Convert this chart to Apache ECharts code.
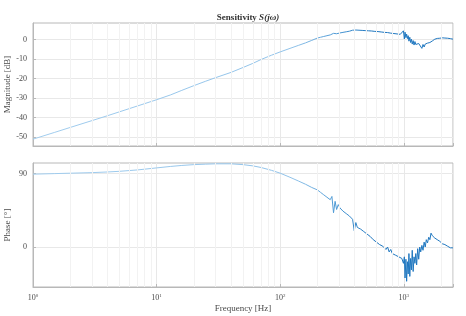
<!DOCTYPE html>
<html>
<head>
<meta charset="utf-8">
<script src="https://cdn.jsdelivr.net/npm/echarts@6/dist/echarts.min.js"></script>
<style>html,body{margin:0;padding:0;background:#fff}#c{width:466px;height:316px}</style>
</head>
<body>
<div id="c"></div>
<script>
const freq = [1, 1.5, 2, 3, 4, 5, 7, 10, 13, 16, 20, 25, 30, 40, 50, 60, 70, 85, 100, 120, 140, 160, 180,
  200, 206, 212, 218, 225, 232, 239, 246, 254, 262, 270, 278, 286, 295, 304, 313, 322, 332, 342, 352, 363, 374, 385, 397,
  409, 421, 434, 447, 460, 474, 488, 503, 518, 534, 550, 566, 583, 601, 619, 637, 656, 676, 696, 717, 739, 761, 784, 807,
  832, 857, 882, 909, 936, 964, 993, 1010, 1023, 1040, 1054, 1070, 1085, 1100, 1118, 1135, 1152, 1170, 1190, 1210, 1230,
  1250, 1270, 1295, 1320, 1345, 1370, 1400, 1430, 1460, 1490, 1520, 1555, 1590, 1625, 1660, 1700, 1740, 1780, 1820, 1865,
  1910, 1955, 2000, 2050, 2100, 2150, 2200, 2260, 2320, 2380, 2440, 2500];

const magnitude = [-51, -47.5, -45, -41.5, -39, -37, -34, -30.8, -28.3, -26, -23.6, -21.3, -19.5, -16.8, -14.3, -12.2, -10.2, -8, -6.3, -4.5, -3, -1.7, -0.4,
  0.8, 1.0, 1.2, 1.3, 1.6, 1.7, 2.0, 2.1, 2.4, 2.5, 3.2, 2.6, 3.0, 3.1, 3.4, 3.5, 3.7, 3.8, 4.0, 4.2, 4.3, 4.6, 4.8, 5.6,
  4.9, 5.0, 4.8, 5.0, 4.7, 4.9, 4.6, 4.8, 4.5, 4.7, 4.4, 4.6, 4.2, 4.5, 4.1, 4.3, 3.9, 4.2, 3.7, 4.0, 3.6, 3.8, 3.3, 3.7,
  3.1, 3.5, 2.9, 3.3, 2.7, 3.0, 4.5, 0.3, 3.8, 1.0, 2.8, 0.5, 2.0, -0.8, 1.2, -1.5, 0.2, -2.3, -0.5, -2.8, -1.0,
  -2.5, -1.6, -3.5, -2.0, -3.0, -2.2, -4.5, -2.5, -3.8, -2.3, -3.0, -1.8, -2.6, -1.5, -1.9, -0.7, -0.9, 0.2, 0.0, 0.6,
  0.4, 0.7, 0.5, 0.9, 0.6, 0.8, 0.5, 0.7, 0.3, 0.5, 0.1, 0.2];

const phase = [89.3, 90, 90.5, 91.2, 92, 92.8, 94.5, 97, 98.8, 100, 101, 101.6, 102, 102, 101, 99.5, 97.5, 94, 90.5, 85.5, 81, 77, 73,
  70, 68, 67, 66, 64, 63, 61, 60, 58, 62, 42, 56, 46, 52, 48, 46, 44, 43, 41, 39, 38, 36, 34, 20,
  30, 24, 25, 22, 21, 19, 18, 16, 15, 13, 12, 9, 9, 6, 7, 3, 5, 1, 2, -3, 0, -6, -3, -8,
  -6, -10, -8, -12, -10, -14, -20, -12, -38, -15, -42, -18, -33, -8, -36, -14, -28, -4, -30, -12, -20,
  -8, -22, -2, -15, 0, -6, 2, -4, 6, 0, 9, 5, 12, 9, 17, 14, 16, 11, 12, 9,
  10, 7, 7, 4, 5, 3, 3, 1, 1, -1, 0, -1];

const minorFreqs = [2, 3, 4, 5, 6, 7, 8, 9, 20, 30, 40, 50, 60, 70, 80, 90, 200, 300, 400, 500, 600, 700, 800, 900, 2000];
const magTicks = [-50, -40, -30, -20, -10, 0];
const phaseTicks = [0, 90];
const title = 'Sensitivity';

const font = 'Liberation Serif';
const txt = '#4a4a4a';
const gridC = '#e8e8e8';
const boxC = '#b8b8b8';

function lineGrad() {
  return new echarts.graphic.LinearGradient(0, 0, 1, 0, [
    {offset: 0, color: '#a2cdee'},
    {offset: 0.62, color: '#90c2e9'},
    {offset: 0.72, color: '#4b98d4'},
    {offset: 0.8, color: '#1e76bf'},
    {offset: 1, color: '#1e76bf'}
  ]);
}

const minorLines = {
  silent: true, symbol: 'none', label: {show: false},
  lineStyle: {color: '#f2f2f2', type: 'solid', width: 1},
  data: minorFreqs.map(f => ({xAxis: f}))
};

function isDecade(v) {
  const e = Math.log10(v);
  return Math.abs(e - Math.round(e)) < 1e-6;
}

function xAxisCfg(gi, showLabels) {
  return {
    type: 'log', logBase: 10, gridIndex: gi, min: 1, max: 2500,
    axisLine: {show: true, onZero: false, lineStyle: {color: boxC}},
    axisTick: {show: true, inside: true, length: 3, lineStyle: {color: boxC}},
    splitLine: {show: true, lineStyle: {color: gridC}},
    axisLabel: showLabels ? {
      show: true,
      color: txt, fontFamily: font, fontSize: 8, margin: 6,
      formatter: v => isDecade(v) ? '10{s|' + Math.round(Math.log10(v)) + '}' : '',
      rich: {s: {fontSize: 5, fontFamily: font, color: txt, padding: [0, 0, 5, 0]}}
    } : {show: false},
    name: showLabels ? 'Frequency [Hz]' : '',
    nameLocation: 'middle', nameGap: 17, nameMoveOverlap: false,
    nameTextStyle: {color: txt, fontFamily: font, fontSize: 9}
  };
}

function yAxisCfg(gi, min, max, ticks, name) {
  return {
    type: 'value', gridIndex: gi, min: min, max: max,
    axisLine: {show: true, onZero: false, lineStyle: {color: boxC}},
    axisTick: {show: true, inside: true, length: 3, customValues: ticks, lineStyle: {color: boxC}},
    splitLine: {show: true, lineStyle: {color: gridC}},
    axisLabel: {show: true, customValues: ticks, color: txt, fontFamily: font, fontSize: 8, margin: 6},
    name: name, nameLocation: 'middle', nameGap: 21, nameMoveOverlap: false,
    nameTextStyle: {color: txt, fontFamily: font, fontSize: 9}
  };
}

const chart = echarts.init(document.getElementById('c'), null, {renderer: 'canvas'});
chart.setOption({
  animation: false,
  backgroundColor: '#fff',
  title: {
    text: title + ' {i|S(jω)}', left: 243, top: 8, textAlign: 'center',
    textStyle: {color: '#333', fontFamily: font, fontSize: 9, fontWeight: 'bold',
      rich: {i: {fontStyle: 'italic', fontFamily: font, fontSize: 9, fontWeight: 'bold', color: '#333'}}}
  },
  grid: [
    {left: 33, right: 13, top: 23, height: 123, show: true, borderColor: boxC, borderWidth: 1,
      containLabel: false, outerBoundsMode: 'none'},
    {left: 33, right: 13, top: 163, height: 124, show: true, borderColor: boxC, borderWidth: 1,
      containLabel: false, outerBoundsMode: 'none'}
  ],
  xAxis: [xAxisCfg(0, false), xAxisCfg(1, true)],
  yAxis: [yAxisCfg(0, -54.5, 8.5, magTicks, 'Magnitude [dB]'), yAxisCfg(1, -49, 103, phaseTicks, 'Phase [°]')],
  series: [
    {type: 'line', xAxisIndex: 0, yAxisIndex: 0, showSymbol: false, symbol: 'none',
      lineStyle: {color: lineGrad(), width: 1}, data: freq.map((f, i) => [f, magnitude[i]]), markLine: minorLines, z: 3},
    {type: 'line', xAxisIndex: 1, yAxisIndex: 1, showSymbol: false, symbol: 'none',
      lineStyle: {color: lineGrad(), width: 1}, data: freq.map((f, i) => [f, phase[i]]), markLine: minorLines, z: 3}
  ]
});
</script>
</body>
</html>
